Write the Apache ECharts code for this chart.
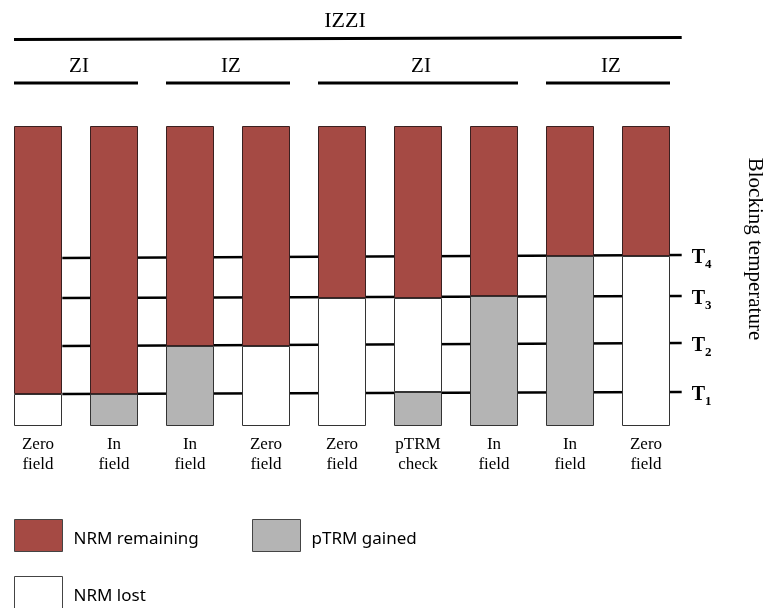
<!DOCTYPE html>
<html>
<head>
<meta charset="utf-8">
<script src="https://cdn.jsdelivr.net/npm/echarts@6/dist/echarts.min.js"></script>
<style>html,body{margin:0;padding:0;background:#fff}#c{width:770px;height:608px}</style>
</head>
<body>
<div id="c"></div>
<script>
// ---- data ----
const categories = ['Zero\nfield','In\nfield','In\nfield','Zero\nfield','Zero\nfield','pTRM\ncheck','In\nfield','In\nfield','Zero\nfield'];
const ptrmGained   = [null, 32, 80, null, null, 34, 130, 170, null];
const nrmLost      = [32, null, null, 80, 128, 94, null, null, 170];
const nrmRemaining = [268, 268, 220, 220, 172, 172, 170, 130, 130];
const tempNames = ['1','2','3','4'];
const tempLeft  = [32, 80, 128, 168];
const tempRight = [34, 83, 130, 171];
const tempSpan  = [0.82, 8.97];
const stepGroups = [
  {name:'ZI', from:0, to:1},
  {name:'IZ', from:2, to:3},
  {name:'ZI', from:4, to:6},
  {name:'IZ', from:7, to:8}
];
const topGroupName = 'IZZI';
const axisTitle = 'Blocking temperature';

const SERIF = '"Liberation Serif","Times New Roman",serif';
const SANS = '"Noto Sans","Open Sans",sans-serif';
const RED = '#A54A44', GREY = '#B4B4B4', WHITE = '#FFFFFF';
const BAR_W = 48;

const chart = echarts.init(document.getElementById('c'), null, {renderer:'canvas'});

const barBase = {
  type:'bar', stack:'a', barWidth:BAR_W, xAxisIndex:0, yAxisIndex:0, z:3
};

const lineSeries = tempNames.map((n,i)=>({
  type:'line', xAxisIndex:1, yAxisIndex:0, z:1, symbol:'none', silent:true,
  lineStyle:{color:'#000', width:2.5},
  data:[[tempSpan[0], tempLeft[i]], [tempSpan[1], tempRight[i]]],
  endLabel:{
    show:true, distance:10, offset:[0,3],
    formatter:'{t|T}{s|' + n + '}',
    rich:{
      t:{fontFamily:SERIF, fontWeight:'bold', fontSize:20, color:'#000', lineHeight:26},
      s:{fontFamily:SERIF, fontWeight:'bold', fontSize:13, color:'#000', lineHeight:14, verticalAlign:'bottom'}
    }
  }
}));

const legendCommon = {
  orient:'horizontal', itemWidth:48, itemHeight:32, selectedMode:false, icon:'rect', padding:0,
  formatter:'{a|{name}}',
  textStyle:{fontFamily:SANS, fontSize:17, color:'#000',
    rich:{a:{fontFamily:SANS, fontSize:17, color:'#000', padding:[8,0,0,6]}}},
  itemStyle:{borderColor:'#444', borderWidth:1}
};

chart.setOption({
  animation:false,
  backgroundColor:'#fff',
  grid:{left:0, right:86, top:126, bottom:182, containLabel:false},
  xAxis:[
    {type:'category', data:categories, gridIndex:0,
     axisLine:{show:false}, axisTick:{show:false},
     axisLabel:{fontFamily:SERIF, fontSize:17, color:'#000', lineHeight:20, margin:9, interval:0}},
    {type:'value', min:0, max:9, show:false, gridIndex:0}
  ],
  yAxis:[{type:'value', min:0, max:300, show:false}],
  legend:[
    Object.assign({}, legendCommon, {left:14, top:519, data:['NRM remaining']}),
    Object.assign({}, legendCommon, {left:252, top:519, data:['pTRM gained']}),
    Object.assign({}, legendCommon, {left:14, top:576, data:['NRM lost']})
  ],
  series:[
    Object.assign({}, barBase, {name:'pTRM gained', data:ptrmGained, itemStyle:{color:GREY, borderColor:'#333', borderWidth:1}}),
    Object.assign({}, barBase, {name:'NRM lost', data:nrmLost, itemStyle:{color:WHITE, borderColor:'#333', borderWidth:1}}),
    Object.assign({}, barBase, {name:'NRM remaining', data:nrmRemaining, itemStyle:{color:RED, borderColor:'#3a2020', borderWidth:1}})
  ].concat(lineSeries)
});

// annotation brackets computed from the axis positions
function catX(i){ return chart.convertToPixel({xAxisIndex:0}, i); }
const graphics = [];
stepGroups.forEach(g=>{
  const x0 = catX(g.from) - BAR_W/2, x1 = catX(g.to) + BAR_W/2;
  graphics.push({type:'line', shape:{x1:x0, y1:83, x2:x1, y2:83}, style:{stroke:'#000', lineWidth:3}});
  graphics.push({type:'text', x:(x0+x1)/2+3, y:66, style:{text:g.name, font:'21px ' + SERIF, fill:'#000', textAlign:'center', textVerticalAlign:'middle'}});
});
const topX0 = catX(0) - BAR_W/2;
const topX1 = chart.convertToPixel({xAxisIndex:1}, tempSpan[1]);
graphics.push({type:'line', shape:{x1:topX0, y1:39.5, x2:topX1, y2:37.5}, style:{stroke:'#000', lineWidth:3}});
graphics.push({type:'text', x:345, y:21, style:{text:topGroupName, font:'22px ' + SERIF, fill:'#000', textAlign:'center', textVerticalAlign:'middle'}});
graphics.push({type:'text', x:755, y:249, rotation:-Math.PI/2, style:{text:axisTitle, font:'21px ' + SERIF, fill:'#000', textAlign:'center', textVerticalAlign:'middle'}});
chart.setOption({graphic:graphics});
</script>
</body>
</html>
